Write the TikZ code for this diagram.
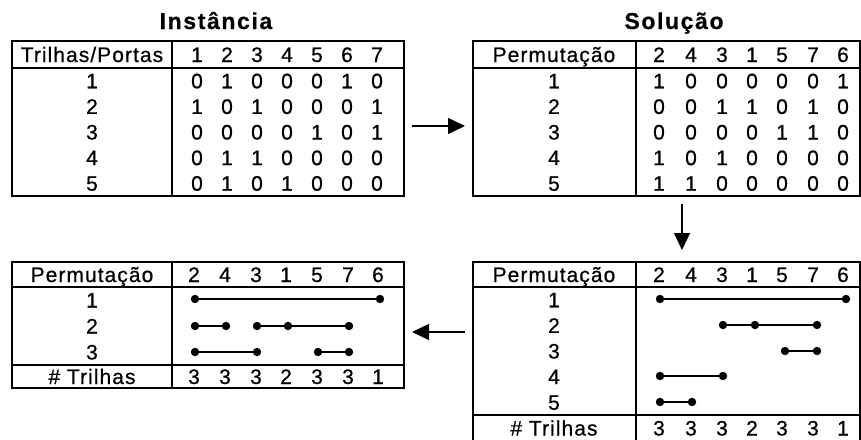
\documentclass[tikz,border=0pt]{standalone}
\usepackage{fontspec}
\setmainfont{Liberation Sans}[LetterSpace=5,FakeBold=0.6]
\newfontfamily\headfont{Liberation Sans}[LetterSpace=7,FakeBold=0.5]
\usetikzlibrary{arrows.meta}
\tikzset{
  frame/.style={draw, line width=1.4pt, inner sep=0pt, outer sep=0pt},
  rule/.style={line width=1.4pt},
  cell/.style={anchor=base, inner sep=0pt, font=\fontsize{21}{25}\selectfont},
  heading/.style={anchor=base, inner sep=0pt, font=\headfont\fontsize{23}{27}\selectfont\bfseries},
  arr/.style={line width=1.3pt, -{Triangle[length=17pt,width=16pt]}},
  seg/.style={line width=2.4pt},
  dotr/.style={radius=4.2},
}
\begin{document}
\begin{tikzpicture}[x=1pt,y=-1pt]
\useasboundingbox (0,0) rectangle (861,439);
\clip (0,0) rectangle (861,439);

% ---------- titles ----------
\node[heading] (title1) at (216,29) {Instância};
\node[heading] (title2) at (674,29) {Solução};

% ---------- frames ----------
\node[frame, minimum width=392, minimum height=155] (t1) at (208,118.5) {};
\node[frame, minimum width=387, minimum height=155] (t2) at (666.5,118.5) {};
\node[frame, minimum width=392, minimum height=126] (t3) at (208,325) {};
\node[frame, minimum width=387, minimum height=179] (t4) at (666.5,351.5) {};

% header rules and column separators
\draw[rule] (t1.west |- 0,68) -- (t1.east |- 0,68);
\draw[rule] (t1.north -| 172,0) -- (t1.south -| 172,0);
\draw[rule] (t2.west |- 0,68) -- (t2.east |- 0,68);
\draw[rule] (t2.north -| 636,0) -- (t2.south -| 636,0);
\draw[rule] (t3.west |- 0,287) -- (t3.east |- 0,287);
\draw[rule] (t3.west |- 0,365) -- (t3.east |- 0,365);
\draw[rule] (t3.north -| 172,0) -- (t3.south -| 172,0);
\draw[rule] (t4.west |- 0,287) -- (t4.east |- 0,287);
\draw[rule] (t4.west |- 0,415) -- (t4.east |- 0,415);
\draw[rule] (t4.north -| 636,0) -- (t4.south -| 636,0);

% ---------- table 1: instance ----------
\node[cell] (h1) at (92,62) {Trilhas/Portas};
\foreach \c in {1,...,7}
  \node[cell] (h1c\c) at ({197+30*(\c-1)},62) {\c};
\foreach \r/\vals in {1/{0,1,0,0,0,1,0},2/{1,0,1,0,0,0,1},3/{0,0,0,0,1,0,1},4/{0,1,1,0,0,0,0},5/{0,1,0,1,0,0,0}}{
  \node[cell] (a\r) at (92,{62.7+25.6*\r}) {\r};
  \foreach \v [count=\c] in \vals
    \node[cell] (a\r-\c) at ({197+30*(\c-1)},{62.7+25.6*\r}) {\v};
}

% ---------- table 2: solution ----------
\node[cell] (h2) at (554,62) {Permutação};
\foreach \v [count=\c] in {2,4,3,1,5,7,6}{
  \pgfmathsetmacro\xx{{659,691,722,752,782,813,843}[\c-1]}
  \node[cell] (h2c\c) at (\xx,62) {\v};
}
\foreach \r/\vals in {1/{1,0,0,0,0,0,1},2/{0,0,1,1,0,1,0},3/{0,0,0,0,1,1,0},4/{1,0,1,0,0,0,0},5/{1,1,0,0,0,0,0}}{
  \node[cell] (b\r) at (554,{62.7+25.6*\r}) {\r};
  \foreach \v [count=\c] in \vals {
    \pgfmathsetmacro\xx{{659,691,722,752,782,813,843}[\c-1]}
    \node[cell] (b\r-\c) at (\xx,{62.7+25.6*\r}) {\v};
  }
}

% ---------- table 3: compacted tracks ----------
\node[cell] (h3) at (92,282) {Permutação};
\foreach \v/\cnt [count=\c] in {2/3,4/3,3/3,1/2,5/3,7/3,6/1}{
  \pgfmathsetmacro\xx{{194,225,256,286,317,348,378}[\c-1]}
  \node[cell] (h3c\c) at (\xx,282) {\v};
  \node[cell] (n3c\c) at (\xx,384) {\cnt};
}
\foreach \r in {1,2,3}
  \node[cell] (c\r) at (92,{281.5+26*\r}) {\r};
\node[cell] (n3) at (92,384) {\# Trilhas};
\draw[seg] (195,299) -- (380,299);
\draw[seg] (195,326) -- (226,326);
\draw[seg] (257,326) -- (349,326);
\draw[seg] (195,352) -- (257,352);
\draw[seg] (318,352) -- (349,352);
\foreach \p in {(195,299),(380,299),(195,326),(226,326),(257,326),(288,326),(349,326),(195,352),(257,352),(318,352),(349,352)}
  \fill \p circle[dotr];

% ---------- table 4: tracks of the solution ----------
\node[cell] (h4) at (554,282) {Permutação};
\foreach \v/\cnt [count=\c] in {2/3,4/3,3/3,1/2,5/3,7/3,6/1}{
  \pgfmathsetmacro\xx{{659,691,722,752,782,813,843}[\c-1]}
  \node[cell] (h4c\c) at (\xx,282) {\v};
  \node[cell] (n4c\c) at (\xx,435.5) {\cnt};
}
\foreach \r in {1,...,5}
  \node[cell] (d\r) at (554,{281.7+25.6*\r}) {\r};
\node[cell] (n4) at (554,435.5) {\# Trilhas};
\draw[seg] (660,299) -- (846,299);
\draw[seg] (723,325) -- (817,325);
\draw[seg] (785,351) -- (817,351);
\draw[seg] (660,376) -- (723,376);
\draw[seg] (660,402) -- (692,402);
\foreach \p in {(660,299),(846,299),(723,325),(755,325),(817,325),(785,351),(817,351),(660,376),(723,376),(660,402),(692,402)}
  \fill \p circle[dotr];

% ---------- arrows between the tables ----------
\draw[arr] ([shift={(8,7.5)}]t1.east) -- ([shift={(-8,7.5)}]t2.west);
\draw[arr] ([shift={(15.5,8)}]t2.south) -- ([shift={(15.5,-12)}]t4.north);
\draw[arr] ([shift={(-8,-19.5)}]t4.west) -- ([shift={(8,7)}]t3.east);
\end{tikzpicture}
\end{document}
